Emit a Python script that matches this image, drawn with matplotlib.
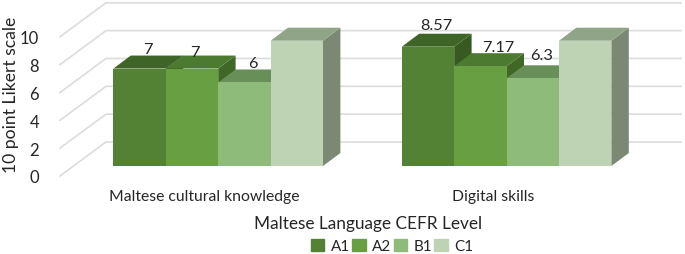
import matplotlib
matplotlib.use("Agg")
import matplotlib.pyplot as plt
from matplotlib.patches import Polygon, Patch

categories = ["Maltese cultural knowledge", "Digital skills"]
levels = ["A1", "A2", "B1", "C1"]
a1_values = [7, 8.57]
a2_values = [7, 7.17]
b1_values = [6, 6.3]
c1_values = [9, 9]
a1_labels = ["7", "8.57"]
a2_labels = ["7", "7.17"]
b1_labels = ["6", "6.3"]
c1_labels = ["9", "9"]
y_ticks = [0, 2, 4, 6, 8, 10]

front_colors = ["#548235", "#689F43", "#8FBB7A", "#BDD3B4"]
top_colors = ["#3F6427", "#4C7A30", "#688F58", "#90A588"]
side_colors = ["#365A20", "#3F6827", "#5F8050", "#7B8974"]
GRID = "#DCDCDC"
TEXT = "#262626"

W, H = 685, 255
# pixel scale of the data axes
PX_X = 1 / 288.4
PX_Y = 1 / 13.92

plt.rcParams["font.family"] = ["Lato", "DejaVu Sans"]
fig = plt.figure(figsize=(W / 100, H / 100), dpi=100)
ax = fig.add_axes([60 / W, (H - 177) / H, 621 / W, 139.2 / H])
ax.set_xlim(-144.7 * PX_X, 476.3 * PX_X)
ax.set_ylim(0, 10)
for s in ax.spines.values():
    s.set_visible(False)
ax.patch.set_visible(False)

# walls: diagonal on the left side, then straight along the back
wall_dx = 46 * PX_X
wall_dy = 34 * PX_Y
x0, x1 = ax.get_xlim()
for v in y_ticks:
    ax.plot([x0, x0 + wall_dx, x1], [v, v + wall_dy, v + wall_dy],
            color=GRID, lw=1.2, clip_on=False, zorder=1)

bar_w = 52.4 * PX_X
shift_x = 13.5 * PX_X
floor = 10 * PX_Y
depth_x = 17.4 * PX_X
depth_y = 13 * PX_Y

series = [a1_values, a2_values, b1_values, c1_values]
labels = [a1_labels, a2_labels, b1_labels, c1_labels]
# hand placed data labels, px from the middle of the top face
label_nudge = {
    (0, 0): (0, 13.5), (1, 0): (-6, 10), (2, 0): (0, 13), (3, 0): (0, 12.5),
    (0, 1): (0, 15.5), (1, 1): (9, 12.5), (2, 1): (0, 17), (3, 1): (-5, 11),
}

z = 2
for g in range(len(categories)):
    for i in range(len(levels)):
        val = series[i][g]
        left = g + (i - 2) * bar_w + shift_x
        right = left + bar_w
        top = floor + val
        side = [(right, floor), (right + depth_x, floor + depth_y),
                (right + depth_x, top + depth_y), (right, top)]
        roof = [(left, top), (right, top),
                (right + depth_x, top + depth_y), (left + depth_x, top + depth_y)]
        ax.add_patch(Polygon(side, fc=side_colors[i], ec="none", zorder=z, clip_on=False))
        ax.add_patch(Polygon(roof, fc=top_colors[i], ec="none", zorder=z, clip_on=False))
        ax.bar(left, val, bar_w, bottom=floor, align="edge", color=front_colors[i], zorder=z, clip_on=False)
        z += 1
        nx, ny = label_nudge[(i, g)]
        ax.annotate(labels[i][g], ((left + right + depth_x) / 2, top + depth_y / 2),
                    xytext=(nx * 0.72, ny * 0.72), textcoords="offset points",
                    ha="center", va="center", fontsize=11.8, color=TEXT, zorder=50)

ax.set_xticks(range(len(categories)))
ax.set_xticklabels(categories, fontsize=11.3, color=TEXT)
ax.set_yticks(y_ticks)
ax.tick_params(axis="both", length=0)
ax.tick_params(axis="y", labelsize=12, labelcolor=TEXT, pad=15)
ax.tick_params(axis="x", pad=9.5)
for t in ax.get_yticklabels():
    t.set_va("center_baseline")

fig.text(11 / W, 1 - 95 / H, "10 point Likert scale", rotation=90, ha="center", va="center",
         fontsize=12.6, color=TEXT)
fig.text(368 / W, 1 - 224 / H, "Maltese Language CEFR Level", ha="center", va="center",
         fontsize=12.4, color=TEXT)

handles = [Patch(color=c, label=l) for c, l in zip(front_colors, levels)]
fig.legend(handles=handles, loc="center", bbox_to_anchor=(392 / W, 1 - 247 / H), ncol=4,
           frameon=False, fontsize=11, handlelength=0.9, handleheight=0.9,
           handletextpad=0.4, columnspacing=0.15, labelcolor=TEXT, borderpad=0)

fig.savefig("out.png", dpi=100)
